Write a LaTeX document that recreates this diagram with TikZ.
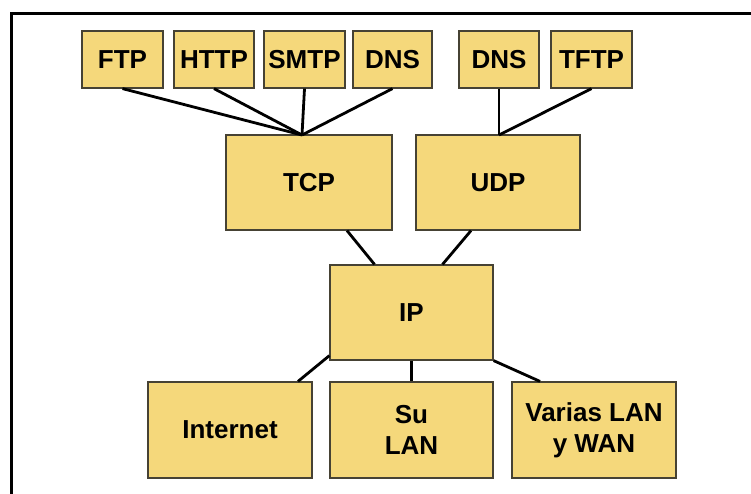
\documentclass[tikz,border=0pt]{standalone}
\usepackage{fontspec}
\setmainfont{Liberation Sans}
\definecolor{boxfill}{RGB}{245,216,123}
\definecolor{boxline}{RGB}{70,66,52}
\tikzset{
	proto/.style={draw=boxline,line width=1.2pt,fill=boxfill,inner sep=0pt,align=center,
		font=\fontsize{26}{31}\selectfont\bfseries},
	link/.style={line width=2.8pt,black}
}
\begin{document}
\begin{tikzpicture}[x=1pt,y=-1pt]
			\useasboundingbox (0,0) rectangle (751,493);
			\draw[line width=3pt] (11,500)--(11,13)--(760,13);
			\node[proto,minimum width=81pt,minimum height=57pt] (ftp) at (122.5,59.5) {FTP};
			\node[proto,minimum width=80pt,minimum height=57pt] (http) at (214,59.5) {HTTP};
			\node[proto,minimum width=81pt,minimum height=57pt] (smtp) at (304.5,59.5) {SMTP};
			\node[proto,minimum width=79pt,minimum height=57pt] (dnsa) at (392.5,59.5) {DNS};
			\node[proto,minimum width=80pt,minimum height=57pt] (dnsb) at (499,59.5) {DNS};
			\node[proto,minimum width=81pt,minimum height=57pt] (tftp) at (591.5,59.5) {TFTP};
			\node[proto,minimum width=166pt,minimum height=95pt] (tcp) at (309,182.5) {TCP};
			\node[proto,minimum width=164pt,minimum height=95pt] (udp) at (498,182.5) {UDP};
			\node[proto,minimum width=163pt,minimum height=95pt] (ip) at (411.5,312.5) {IP};
			\node[proto,minimum width=164pt,minimum height=96pt] (inet) at (230,430) {Internet};
			\node[proto,minimum width=163pt,minimum height=96pt] (lan) at (411.5,430) {Su\\LAN};
			\node[proto,minimum width=164pt,minimum height=96pt] (wan) at (594,430) {Varias LAN\\y WAN};
			\coordinate (tj) at (302,135);
			\coordinate (uj) at (499,135);
			\draw[link] (ftp.south)--(tj);
			\draw[link] (http.south)--(tj);
			\draw[link] (smtp.south)--(tj);
			\draw[link] (dnsa.south)--(tj);
			\draw[link] (dnsb.south)--(uj);
			\draw[link] (tftp.south)--(uj);
			\draw[link] ([xshift=38pt]tcp.south)--([xshift=-37pt]ip.north);
			\draw[link] ([xshift=-27pt]udp.south)--([xshift=31pt]ip.north);
			\draw[link] ([yshift=5pt]ip.south west)--([xshift=68pt]inet.north);
			\draw[link] (ip.south)--(lan.north);
			\draw[link] (ip.south east)--([xshift=-54pt]wan.north);
		\end{tikzpicture}
\end{document}
